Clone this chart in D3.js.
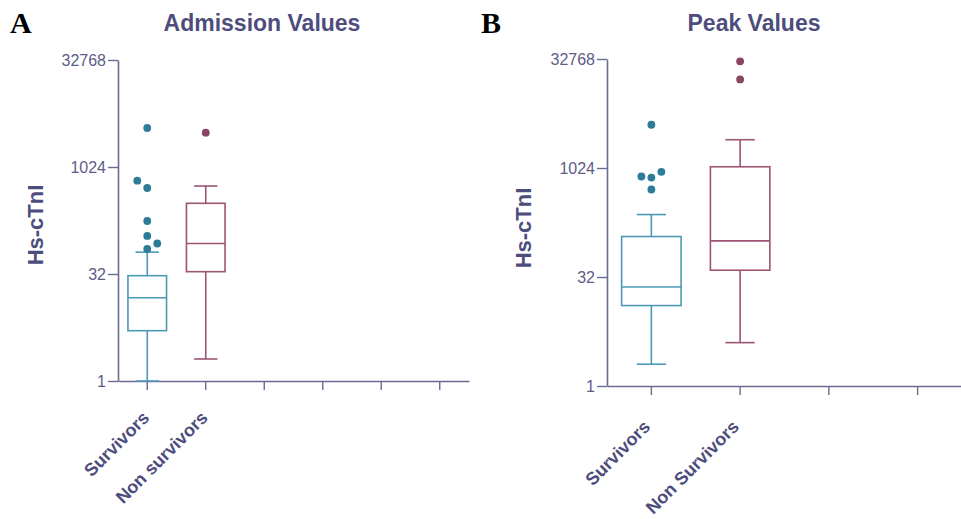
<!DOCTYPE html>
<html>
<head>
<meta charset="utf-8">
<script src="https://cdn.jsdelivr.net/npm/d3@7"></script>
<style>
  body { margin: 0; background: #fff; }
  svg { display: block; }
</style>
</head>
<body>
<div id="chart"></div>
<script>
// Hs-cTnI box plots, log2 y axis
const yTicks = [1, 32, 1024, 32768];

// Panel A - admission values
const admissionGroups = ["Survivors", "Non survivors"];
const admissionSlots = 6;
const admissionMin = [1, 2.04];
const admissionQ1 = [5.1, 34.5];
const admissionMedian = [14.8, 86];
const admissionQ3 = [30.3, 316];
const admissionMax = [65, 553];
const admissionOutliers = [
  [3620, 657, 519, 178, 110, 86, 72],
  [3110]
];

// Panel B - peak values
const peakGroups = ["Survivors", "Non Survivors"];
const peakSlots = 4;
const peakMin = [2.0, 3.97];
const peakQ1 = [12.9, 39.7];
const peakMedian = [23.3, 101];
const peakQ3 = [115.8, 1065];
const peakMax = [233, 2515];
const peakOutliers = [
  [4050, 908, 782, 756, 517],
  [30400, 17100]
];

const colors = {
  box: ["#4d98b6", "#9c5474"],
  dot: ["#2c7b97", "#8a4563"],
  axis: "#6b6b92",
  tickText: "#5d5d88",
  title: "#4d4d7d"
};

const W = 961, H = 519;
const svg = d3.select("#chart").append("svg").attr("width", W).attr("height", H);

function drawPanel(cfg) {
  const g = svg.append("g");

  const y = d3.scaleLog().base(2).domain([1, 32768]).range([cfg.yBottom, cfg.yTop]);
  const x = d3.scaleBand().domain(d3.range(cfg.slots)).range([cfg.xLeft, cfg.xRight]);

  // y axis
  const yAxis = d3.axisLeft(y).tickValues(yTicks).tickFormat(d3.format("d"))
    .tickSize(10).tickSizeOuter(0).tickPadding(2);
  const yg = g.append("g").attr("transform", `translate(${cfg.xLeft},0)`).call(yAxis);
  yg.select(".domain").attr("stroke", colors.axis).attr("stroke-width", 1.6);
  yg.selectAll(".tick line").attr("stroke", colors.axis).attr("stroke-width", 1.4);
  yg.selectAll(".tick text")
    .attr("fill", colors.tickText)
    .attr("font-family", "Liberation Sans, Arial, sans-serif")
    .attr("font-size", 16);

  // x axis
  const xAxis = d3.axisBottom(x).tickFormat("").tickSize(9).tickSizeOuter(0);
  const xg = g.append("g").attr("transform", `translate(0,${cfg.yBottom})`).call(xAxis);
  xg.select(".domain").attr("stroke", colors.axis).attr("stroke-width", 1.6);
  xg.selectAll(".tick line").attr("stroke", colors.axis).attr("stroke-width", 1.4);

  // category labels
  g.selectAll(".xlab")
    .data(cfg.groups)
    .join("text")
    .attr("class", "xlab")
    .attr("text-anchor", "end")
    .attr("transform", (d, i) => {
      const cx = x(i) + x.bandwidth() / 2 + cfg.labelDx;
      return `translate(${cx},${cfg.yBottom + cfg.labelDy}) rotate(-45)`;
    })
    .attr("fill", colors.title)
    .attr("font-family", "Liberation Sans, Arial, sans-serif")
    .attr("font-weight", "bold")
    .attr("font-size", 18)
    .text(d => d);

  const bw = x.bandwidth() * cfg.boxFrac;
  const cw = x.bandwidth() * cfg.capFrac;

  cfg.groups.forEach((name, i) => {
    const cx = x(i) + x.bandwidth() / 2;
    const c = colors.box[i];
    const bg = g.append("g").attr("stroke", c).attr("stroke-width", 1.6).attr("fill", "none");

    // whiskers
    bg.append("line").attr("x1", cx).attr("x2", cx).attr("y1", y(cfg.q3[i])).attr("y2", y(cfg.max[i]));
    bg.append("line").attr("x1", cx).attr("x2", cx).attr("y1", y(cfg.q1[i])).attr("y2", y(cfg.min[i]));
    bg.append("line").attr("x1", cx - cw / 2).attr("x2", cx + cw / 2).attr("y1", y(cfg.max[i])).attr("y2", y(cfg.max[i]));
    bg.append("line").attr("x1", cx - cw / 2).attr("x2", cx + cw / 2).attr("y1", y(cfg.min[i])).attr("y2", y(cfg.min[i]));

    // box and median
    bg.append("rect")
      .attr("x", cx - bw / 2)
      .attr("y", y(cfg.q3[i]))
      .attr("width", bw)
      .attr("height", y(cfg.q1[i]) - y(cfg.q3[i]))
      .attr("fill", "#fff");
    bg.append("line").attr("x1", cx - bw / 2).attr("x2", cx + bw / 2)
      .attr("y1", y(cfg.median[i])).attr("y2", y(cfg.median[i]));

    // outliers, dodged sideways (alternating) when they overlap
    const r = 3.9;
    const placed = [];
    let k = 0;
    cfg.outliers[i].slice().sort((a, b) => a - b).forEach(v => {
      const py = y(v);
      const hits = cand => placed.some(p => Math.hypot(p.x - cand, p.y - py) < 2 * r + 0.5);
      let off = 0;
      if (hits(0)) {
        const order = [cfg.dodge[k % 2], cfg.dodge[(k + 1) % 2]];
        off = order.find(cand => !hits(cand)) ?? order[0];
        k++;
      }
      placed.push({ x: off, y: py });
    });
    g.selectAll(null)
      .data(placed)
      .join("circle")
      .attr("cx", d => cx + d.x)
      .attr("cy", d => d.y)
      .attr("r", r)
      .attr("fill", colors.dot[i]);
  });

  // title
  g.append("text")
    .attr("x", cfg.titleX)
    .attr("y", 31)
    .attr("text-anchor", "middle")
    .attr("fill", colors.title)
    .attr("font-family", "Liberation Sans, Arial, sans-serif")
    .attr("font-weight", "bold")
    .attr("font-size", 23)
    .text(cfg.title);

  // y label
  g.append("text")
    .attr("transform", `translate(${cfg.yLabelX},${cfg.yLabelY}) rotate(-90)`)
    .attr("text-anchor", "middle")
    .attr("fill", colors.title)
    .attr("font-family", "Liberation Sans, Arial, sans-serif")
    .attr("font-weight", "bold")
    .attr("font-size", 22)
    .text("Hs-cTnI");

  // panel letter
  g.append("text")
    .attr("x", cfg.letterX)
    .attr("y", 33)
    .attr("fill", "#000")
    .attr("font-family", "Liberation Serif, Times New Roman, serif")
    .attr("font-weight", "bold")
    .attr("font-size", 30)
    .text(cfg.letter);
}

drawPanel({
  letter: "A", letterX: 10,
  title: "Admission Values", titleX: 262,
  groups: admissionGroups, slots: admissionSlots,
  min: admissionMin, q1: admissionQ1, median: admissionMedian, q3: admissionQ3, max: admissionMax,
  outliers: admissionOutliers,
  xLeft: 118, xRight: 469, yTop: 60, yBottom: 381,
  boxFrac: 0.66, capFrac: 0.4, dodge: [10, -10],
  labelDx: 3, labelDy: 38,
  yLabelX: 43, yLabelY: 225
});

drawPanel({
  letter: "B", letterX: 481,
  title: "Peak Values", titleX: 754,
  groups: peakGroups, slots: peakSlots,
  min: peakMin, q1: peakQ1, median: peakMedian, q3: peakQ3, max: peakMax,
  outliers: peakOutliers,
  xLeft: 607, xRight: 962, yTop: 59, yBottom: 386,
  boxFrac: 0.67, capFrac: 0.33, dodge: [-10, 10],
  labelDx: 0, labelDy: 42,
  yLabelX: 531, yLabelY: 228
});
</script>
</body>
</html>
